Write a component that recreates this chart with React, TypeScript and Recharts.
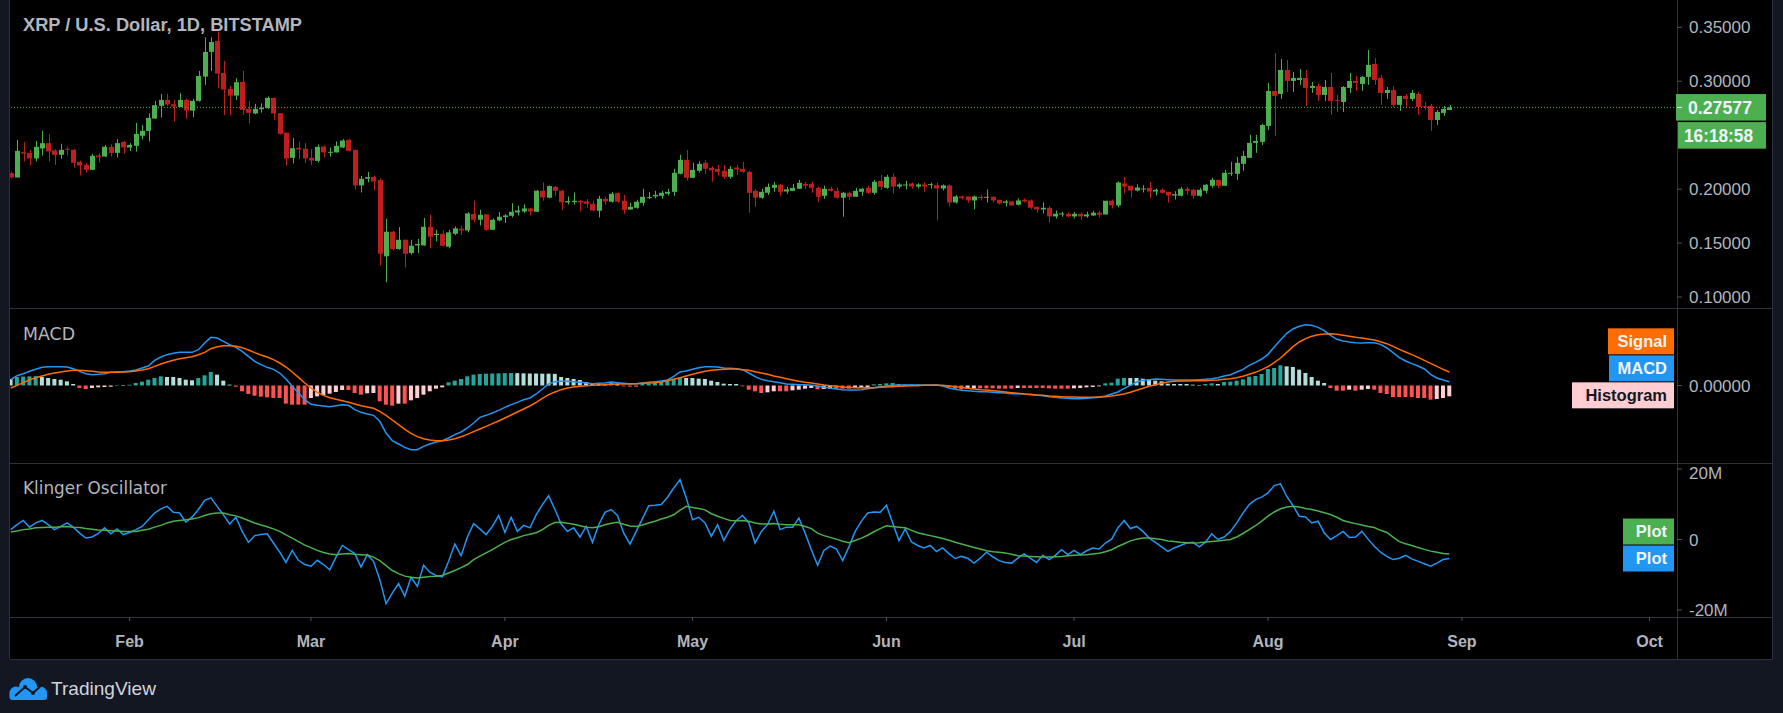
import React from 'react';
import { ComposedChart, Bar, Line, XAxis, YAxis, ReferenceLine, Cell } from 'recharts';

// ---------------- DATA (daily, 2020-01-13 .. 2020-08-30; index = day offset) ----------------
const startDate = '2020-01-13';

const open = [
0.2148,0.2108,0.2343,0.2336,0.2284,0.2377,0.2426,0.2358,0.2318,0.2374,
0.2364,0.2253,0.2225,0.2179,0.2312,0.2302,0.2392,0.2336,0.2438,0.2386,
0.2401,0.2494,0.2540,0.2654,0.2772,0.2827,0.2787,0.2762,0.2827,0.2728,
0.2818,0.3043,0.3272,0.3374,0.3077,0.2929,0.2867,0.2994,0.2744,0.2701,
0.2741,0.2750,0.2846,0.2704,0.2522,0.2290,0.2383,0.2374,0.2290,0.2262,
0.2395,0.2340,0.2340,0.2386,0.2457,0.2364,0.2034,0.2096,0.2114,0.2083,
0.1377,0.1605,0.1444,0.1531,0.1407,0.1478,0.1478,0.1651,0.1574,0.1586,
0.1466,0.1586,0.1633,0.1617,0.1769,0.1716,0.1766,0.1623,0.1710,0.1741,
0.1753,0.1784,0.1793,0.1821,0.1790,0.1985,0.1920,0.2021,0.1985,0.1877,
0.1880,0.1892,0.1886,0.1864,0.1799,0.1910,0.1883,0.1963,0.1892,0.1811,
0.1827,0.1873,0.1920,0.1932,0.1938,0.1957,0.1975,0.2142,0.2271,0.2105,
0.2170,0.2244,0.2197,0.2188,0.2170,0.2114,0.2200,0.2188,0.2160,0.1984,
0.1920,0.1966,0.2012,0.2040,0.1978,0.1984,0.2003,0.2049,0.2049,0.2012,
0.1938,0.2003,0.1984,0.1920,0.1966,0.1929,0.1975,0.2012,0.1966,0.2077,
0.2012,0.2114,0.2024,0.2034,0.2052,0.2024,0.2043,0.2040,0.2037,0.2006,
0.2034,0.1876,0.1932,0.1932,0.1895,0.1929,0.1920,0.1929,0.1901,0.1873,
0.1886,0.1855,0.1901,0.1895,0.1836,0.1812,0.1827,0.1747,0.1765,0.1771,
0.1747,0.1771,0.1747,0.1756,0.1781,0.1765,0.1892,0.1849,0.2052,0.2031,
0.1987,0.1997,0.2012,0.1978,0.1994,0.1975,0.1941,0.1938,0.2003,0.1994,
0.1938,0.1984,0.2031,0.2086,0.2031,0.2142,0.2142,0.2234,0.2290,0.2429,
0.2438,0.2586,0.2910,0.2882,0.3105,0.3003,0.3012,0.3031,0.2938,0.2956,
0.2873,0.2947,0.2827,0.2808,0.2938,0.3003,0.2975,0.3040,0.3160,0.3031,
0.2892,0.2919,0.2781,0.2864,0.2836,0.2882,0.2768,0.2771,0.2641,0.2706,
0.2734];

const high = [
0.2160,0.2457,0.2435,0.2364,0.2447,0.2540,0.2512,0.2371,0.2420,0.2395,
0.2371,0.2265,0.2241,0.2327,0.2333,0.2410,0.2420,0.2463,0.2444,0.2426,
0.2614,0.2593,0.2704,0.2818,0.2883,0.2883,0.2827,0.2889,0.2840,0.2837,
0.3096,0.3407,0.3407,0.3460,0.3188,0.2957,0.3028,0.3096,0.2818,0.2790,
0.2796,0.2858,0.2846,0.2704,0.2525,0.2475,0.2441,0.2426,0.2371,0.2413,
0.2404,0.2386,0.2441,0.2463,0.2466,0.2364,0.2123,0.2160,0.2126,0.2099,
0.1725,0.1611,0.1648,0.1531,0.1531,0.1537,0.1732,0.1762,0.1623,0.1617,
0.1623,0.1654,0.1660,0.1787,0.1892,0.1809,0.1766,0.1728,0.1787,0.1769,
0.1870,0.1846,0.1858,0.1827,0.1994,0.2062,0.2034,0.2028,0.1994,0.1932,
0.1969,0.1898,0.1907,0.1892,0.1938,0.1926,0.1972,0.1969,0.1947,0.1873,
0.1901,0.2003,0.1972,0.1984,0.1984,0.2003,0.2188,0.2318,0.2364,0.2244,
0.2259,0.2271,0.2213,0.2225,0.2225,0.2213,0.2225,0.2253,0.2170,0.2003,
0.2003,0.2052,0.2068,0.2049,0.2021,0.2049,0.2086,0.2068,0.2068,0.2024,
0.2031,0.2021,0.2012,0.1975,0.1975,0.2012,0.2012,0.2031,0.2086,0.2133,
0.2133,0.2145,0.2055,0.2077,0.2061,0.2055,0.2061,0.2061,0.2061,0.2043,
0.2043,0.1944,0.1941,0.1932,0.1941,0.1947,0.1997,0.1932,0.1901,0.1901,
0.1886,0.1914,0.1914,0.1904,0.1836,0.1876,0.1839,0.1802,0.1790,0.1784,
0.1790,0.1784,0.1790,0.1799,0.1799,0.1892,0.1904,0.2071,0.2114,0.2031,
0.2046,0.2037,0.2068,0.2006,0.2006,0.1975,0.1981,0.2021,0.2021,0.2003,
0.2012,0.2049,0.2105,0.2086,0.2179,0.2253,0.2299,0.2355,0.2503,0.2503,
0.2605,0.2984,0.3262,0.3207,0.3197,0.3086,0.3114,0.3105,0.2993,0.2984,
0.3012,0.3077,0.2873,0.2956,0.3077,0.3049,0.3049,0.3290,0.3216,0.3058,
0.2947,0.2956,0.2864,0.2882,0.2919,0.2901,0.2808,0.2790,0.2734,0.2771,
0.2780];

const low = [
0.2100,0.2108,0.2256,0.2219,0.2256,0.2312,0.2256,0.2225,0.2281,0.2312,
0.2201,0.2126,0.2154,0.2176,0.2247,0.2299,0.2302,0.2293,0.2330,0.2352,
0.2349,0.2460,0.2441,0.2651,0.2664,0.2772,0.2627,0.2759,0.2651,0.2667,
0.2812,0.2966,0.3096,0.2935,0.2685,0.2682,0.2827,0.2688,0.2608,0.2694,
0.2710,0.2744,0.2642,0.2506,0.2219,0.2238,0.2278,0.2241,0.2225,0.2247,
0.2296,0.2302,0.2340,0.2380,0.2349,0.1994,0.1969,0.2062,0.1988,0.1293,
0.1136,0.1432,0.1438,0.1275,0.1392,0.1407,0.1475,0.1451,0.1515,0.1469,
0.1451,0.1574,0.1574,0.1599,0.1691,0.1664,0.1614,0.1623,0.1701,0.1685,
0.1738,0.1756,0.1778,0.1756,0.1790,0.1892,0.1914,0.1938,0.1809,0.1858,
0.1858,0.1793,0.1827,0.1793,0.1738,0.1855,0.1876,0.1873,0.1771,0.1808,
0.1818,0.1845,0.1907,0.1913,0.1910,0.1941,0.1938,0.2136,0.2077,0.2105,
0.2154,0.2142,0.2068,0.2123,0.2096,0.2096,0.2133,0.2151,0.1781,0.1836,
0.1910,0.1947,0.1975,0.1938,0.1957,0.1984,0.2003,0.2003,0.1966,0.1883,
0.1910,0.1975,0.1910,0.1744,0.1901,0.1929,0.1938,0.1957,0.1947,0.1994,
0.2003,0.1960,0.2006,0.1997,0.2006,0.2006,0.1978,0.2006,0.1710,0.1987,
0.1839,0.1867,0.1904,0.1876,0.1812,0.1895,0.1876,0.1876,0.1858,0.1839,
0.1849,0.1849,0.1876,0.1812,0.1784,0.1774,0.1691,0.1728,0.1744,0.1740,
0.1728,0.1716,0.1734,0.1750,0.1737,0.1765,0.1821,0.1830,0.1960,0.1923,
0.1978,0.1969,0.1914,0.1941,0.1960,0.1876,0.1904,0.1932,0.1947,0.1910,
0.1929,0.1960,0.2012,0.2012,0.2031,0.2123,0.2086,0.2170,0.2290,0.2336,
0.2410,0.2549,0.2494,0.2836,0.2901,0.2901,0.2966,0.2771,0.2892,0.2818,
0.2818,0.2688,0.2716,0.2716,0.2892,0.2910,0.2910,0.2966,0.2966,0.2781,
0.2836,0.2762,0.2725,0.2762,0.2818,0.2688,0.2734,0.2540,0.2595,0.2679,
0.2734];

const close = [
0.2108,0.2355,0.2330,0.2284,0.2392,0.2426,0.2349,0.2318,0.2364,0.2364,
0.2244,0.2219,0.2179,0.2309,0.2296,0.2392,0.2336,0.2426,0.2386,0.2410,
0.2512,0.2540,0.2660,0.2778,0.2827,0.2784,0.2766,0.2827,0.2728,0.2818,
0.3049,0.3272,0.3364,0.3071,0.2923,0.2867,0.2991,0.2734,0.2707,0.2744,
0.2753,0.2846,0.2701,0.2512,0.2284,0.2380,0.2367,0.2284,0.2265,0.2392,
0.2340,0.2346,0.2401,0.2451,0.2355,0.2034,0.2096,0.2111,0.2071,0.1401,
0.1605,0.1444,0.1531,0.1401,0.1475,0.1491,0.1651,0.1559,0.1586,0.1475,
0.1599,0.1636,0.1617,0.1775,0.1716,0.1762,0.1623,0.1716,0.1744,0.1756,
0.1790,0.1802,0.1821,0.1793,0.1985,0.1923,0.2028,0.1985,0.1877,0.1889,
0.1892,0.1877,0.1864,0.1802,0.1911,0.1886,0.1957,0.1883,0.1808,0.1836,
0.1883,0.1929,0.1926,0.1947,0.1966,0.1975,0.2151,0.2271,0.2105,0.2179,
0.2234,0.2188,0.2173,0.2160,0.2114,0.2188,0.2182,0.2160,0.1966,0.1920,
0.1975,0.2021,0.2040,0.1975,0.1997,0.2012,0.2058,0.2031,0.2012,0.1929,
0.2003,0.1984,0.1920,0.1966,0.1929,0.1984,0.2003,0.1966,0.2068,0.2021,
0.2114,0.2024,0.2043,0.2043,0.2024,0.2043,0.2024,0.2046,0.2006,0.2034,
0.1876,0.1932,0.1917,0.1895,0.1932,0.1917,0.1929,0.1895,0.1867,0.1886,
0.1849,0.1895,0.1886,0.1827,0.1812,0.1827,0.1747,0.1771,0.1774,0.1747,
0.1771,0.1747,0.1765,0.1781,0.1762,0.1892,0.1849,0.2061,0.2024,0.1987,
0.2015,0.2006,0.1978,0.1994,0.1966,0.1941,0.1953,0.2003,0.1984,0.1938,
0.1994,0.2040,0.2086,0.2031,0.2151,0.2151,0.2244,0.2308,0.2429,0.2447,
0.2595,0.2910,0.2864,0.3105,0.3003,0.3031,0.3031,0.2938,0.2956,0.2873,
0.2947,0.2818,0.2818,0.2947,0.3003,0.2984,0.3040,0.3151,0.3012,0.2892,
0.2919,0.2781,0.2864,0.2836,0.2892,0.2762,0.2759,0.2641,0.2716,0.2744,
0.27577];

// MACD (12,26,9)
const macdLine = [
17.5e-4,29.5e-4,35.5e-4,42.5e-4,48.5e-4,54.5e-4,56.5e-4,56.5e-4,56.5e-4,55.5e-4,
50.5e-4,42.5e-4,35.5e-4,32.5e-4,33.5e-4,35.5e-4,39.5e-4,41.5e-4,41.5e-4,43.5e-4,
46.5e-4,52.5e-4,58.5e-4,75.5e-4,85.5e-4,92.5e-4,96.5e-4,99.5e-4,99.5e-4,99.5e-4,
107.5e-4,127.5e-4,144.5e-4,142.5e-4,132.5e-4,122.5e-4,114.5e-4,102.5e-4,87.5e-4,72.5e-4,
62.5e-4,54.5e-4,48.5e-4,37.5e-4,19.5e-4,-2.5e-4,-22.5e-4,-42.5e-4,-56.5e-4,-59.5e-4,
-61.5e-4,-63.5e-4,-60.5e-4,-57.5e-4,-59.5e-4,-72.5e-4,-80.5e-4,-85.5e-4,-89.5e-4,-107.5e-4,
-142.5e-4,-165.5e-4,-175.5e-4,-185.5e-4,-192.5e-4,-192.5e-4,-182.5e-4,-175.5e-4,-169.5e-4,-165.5e-4,
-157.5e-4,-147.5e-4,-139.5e-4,-127.5e-4,-112.5e-4,-95.5e-4,-89.5e-4,-82.5e-4,-74.5e-4,-65.5e-4,
-57.5e-4,-50.5e-4,-42.5e-4,-37.5e-4,-25.5e-4,-10.5e-4,4.5e-4,11.5e-4,12.5e-4,12.5e-4,
11.5e-4,9.5e-4,7.5e-4,5.5e-4,6.5e-4,7.5e-4,10.5e-4,8.5e-4,6.5e-4,4.5e-4,
5.5e-4,7.5e-4,9.5e-4,11.5e-4,13.5e-4,16.5e-4,27.5e-4,40.5e-4,43.5e-4,48.5e-4,
53.5e-4,56.5e-4,56.5e-4,55.5e-4,52.5e-4,51.5e-4,50.5e-4,47.5e-4,37.5e-4,26.5e-4,
18.5e-4,14.5e-4,11.5e-4,8.5e-4,4.5e-4,3.5e-4,2.5e-4,2.5e-4,0.5e-4,-1.5e-4,
-5.5e-4,-7.5e-4,-10.5e-4,-12.5e-4,-13.5e-4,-13.5e-4,-12.5e-4,-9.5e-4,-6.5e-4,-3.5e-4,
-1.5e-4,0.5e-4,1.5e-4,1.5e-4,1.5e-4,1.5e-4,1.5e-4,1.5e-4,2.5e-4,-1.5e-4,
-7.5e-4,-11.5e-4,-14.5e-4,-15.5e-4,-17.5e-4,-18.5e-4,-18.5e-4,-20.5e-4,-21.5e-4,-22.5e-4,
-24.5e-4,-24.5e-4,-25.5e-4,-27.5e-4,-28.5e-4,-30.5e-4,-33.5e-4,-35.5e-4,-37.5e-4,-38.5e-4,
-39.5e-4,-39.5e-4,-38.5e-4,-36.5e-4,-35.5e-4,-31.5e-4,-25.5e-4,-19.5e-4,-8.5e-4,0.5e-4,
10.5e-4,15.5e-4,17.5e-4,19.5e-4,18.5e-4,17.5e-4,16.5e-4,16.5e-4,16.5e-4,16.5e-4,
17.5e-4,18.5e-4,20.5e-4,23.5e-4,28.5e-4,32.5e-4,40.5e-4,48.5e-4,60.5e-4,69.5e-4,
79.5e-4,93.5e-4,115.5e-4,136.5e-4,156.5e-4,169.5e-4,177.5e-4,182.5e-4,180.5e-4,174.5e-4,
164.5e-4,150.5e-4,138.5e-4,133.5e-4,130.5e-4,128.5e-4,127.5e-4,128.5e-4,128.5e-4,123.5e-4,
112.5e-4,98.5e-4,83.5e-4,73.5e-4,65.5e-4,58.5e-4,49.5e-4,33.5e-4,22.5e-4,16.5e-4,
11.5e-4];

const signalLine = [
-7.5e-4,0.5e-4,8.5e-4,16.5e-4,23.5e-4,28.5e-4,33.5e-4,37.5e-4,40.5e-4,43.5e-4,
45.5e-4,45.5e-4,44.5e-4,42.5e-4,40.5e-4,39.5e-4,39.5e-4,39.5e-4,40.5e-4,41.5e-4,
43.5e-4,46.5e-4,50.5e-4,57.5e-4,64.5e-4,70.5e-4,75.5e-4,80.5e-4,83.5e-4,86.5e-4,
92.5e-4,99.5e-4,110.5e-4,116.5e-4,119.5e-4,119.5e-4,117.5e-4,113.5e-4,106.5e-4,98.5e-4,
91.5e-4,85.5e-4,77.5e-4,67.5e-4,55.5e-4,40.5e-4,24.5e-4,7.5e-4,-7.5e-4,-20.5e-4,
-29.5e-4,-36.5e-4,-41.5e-4,-45.5e-4,-50.5e-4,-55.5e-4,-60.5e-4,-64.5e-4,-68.5e-4,-77.5e-4,
-89.5e-4,-103.5e-4,-117.5e-4,-131.5e-4,-143.5e-4,-153.5e-4,-159.5e-4,-163.5e-4,-165.5e-4,-165.5e-4,
-163.5e-4,-159.5e-4,-153.5e-4,-146.5e-4,-138.5e-4,-130.5e-4,-122.5e-4,-114.5e-4,-106.5e-4,-97.5e-4,
-88.5e-4,-79.5e-4,-70.5e-4,-61.5e-4,-50.5e-4,-38.5e-4,-27.5e-4,-19.5e-4,-12.5e-4,-7.5e-4,
-4.5e-4,-2.5e-4,-0.5e-4,0.5e-4,1.5e-4,2.5e-4,3.5e-4,4.5e-4,4.5e-4,5.5e-4,
5.5e-4,6.5e-4,7.5e-4,8.5e-4,10.5e-4,14.5e-4,18.5e-4,23.5e-4,28.5e-4,33.5e-4,
38.5e-4,42.5e-4,45.5e-4,47.5e-4,48.5e-4,49.5e-4,49.5e-4,47.5e-4,45.5e-4,41.5e-4,
37.5e-4,33.5e-4,28.5e-4,24.5e-4,20.5e-4,16.5e-4,12.5e-4,9.5e-4,7.5e-4,4.5e-4,
1.5e-4,-0.5e-4,-2.5e-4,-4.5e-4,-5.5e-4,-6.5e-4,-6.5e-4,-6.5e-4,-6.5e-4,-5.5e-4,
-4.5e-4,-3.5e-4,-2.5e-4,-1.5e-4,-0.5e-4,-0.5e-4,0.5e-4,0.5e-4,0.5e-4,0.5e-4,
-1.5e-4,-3.5e-4,-5.5e-4,-8.5e-4,-10.5e-4,-12.5e-4,-13.5e-4,-15.5e-4,-17.5e-4,-19.5e-4,
-21.5e-4,-23.5e-4,-25.5e-4,-26.5e-4,-28.5e-4,-29.5e-4,-31.5e-4,-32.5e-4,-33.5e-4,-34.5e-4,
-34.5e-4,-35.5e-4,-35.5e-4,-35.5e-4,-34.5e-4,-33.5e-4,-31.5e-4,-28.5e-4,-25.5e-4,-20.5e-4,
-14.5e-4,-8.5e-4,-2.5e-4,2.5e-4,6.5e-4,10.5e-4,12.5e-4,13.5e-4,13.5e-4,14.5e-4,
14.5e-4,14.5e-4,15.5e-4,16.5e-4,18.5e-4,20.5e-4,23.5e-4,27.5e-4,33.5e-4,39.5e-4,
47.5e-4,56.5e-4,68.5e-4,82.5e-4,99.5e-4,116.5e-4,130.5e-4,140.5e-4,147.5e-4,152.5e-4,
154.5e-4,155.5e-4,153.5e-4,150.5e-4,147.5e-4,144.5e-4,142.5e-4,139.5e-4,136.5e-4,131.5e-4,
125.5e-4,117.5e-4,108.5e-4,100.5e-4,92.5e-4,84.5e-4,75.5e-4,66.5e-4,57.5e-4,48.5e-4,
40.5e-4];

const histogram = [
19.5e-4,25.5e-4,27e-4,27.5e-4,28e-4,25.5e-4,22.5e-4,19.5e-4,17.5e-4,12.5e-4,
4.5e-4,-7.5e-4,-10.5e-4,-7.5e-4,-5.5e-4,-4.5e-4,-3.5e-4,1.5e-4,1.5e-4,2.5e-4,
7.5e-4,11.5e-4,17.5e-4,22.5e-4,27.5e-4,25.5e-4,25.5e-4,22.5e-4,17.5e-4,15.5e-4,
22.5e-4,30.5e-4,40.5e-4,32.5e-4,14.5e-4,2.5e-4,-3.5e-4,-17.5e-4,-25.5e-4,-30.5e-4,
-33.5e-4,-35.5e-4,-37.5e-4,-37.5e-4,-54.5e-4,-57.5e-4,-57.5e-4,-57.5e-4,-37.5e-4,-32.5e-4,
-29.5e-4,-24.5e-4,-19.5e-4,-13.5e-4,-13.5e-4,-22.5e-4,-27.5e-4,-23.5e-4,-22.5e-4,-47.5e-4,
-57.5e-4,-60.5e-4,-54.5e-4,-54.5e-4,-44.5e-4,-37.5e-4,-27.5e-4,-17.5e-4,-9.5e-4,-5.5e-4,
9.5e-4,14.5e-4,19.5e-4,27.5e-4,32.5e-4,34.5e-4,35.5e-4,36e-4,36.5e-4,37e-4,
37.5e-4,37e-4,36.5e-4,36e-4,36e-4,35.5e-4,35.5e-4,35e-4,25.5e-4,22.5e-4,
19.5e-4,16.5e-4,10.5e-4,6.5e-4,4.5e-4,3.5e-4,7.5e-4,4.5e-4,-2.5e-4,-3.5e-4,
-3.5e-4,4.5e-4,6.5e-4,7.5e-4,10.5e-4,14.5e-4,20.5e-4,22.5e-4,22.5e-4,22.5e-4,
20.5e-4,19.5e-4,14.5e-4,10.5e-4,5.5e-4,4.5e-4,4.5e-4,-2.5e-4,-12.5e-4,-17.5e-4,
-22.5e-4,-20.5e-4,-17.5e-4,-17.5e-4,-17.5e-4,-14.5e-4,-12.5e-4,-9.5e-4,-7.5e-4,-11.5e-4,
-10.5e-4,-9.5e-4,-9.5e-4,-9.5e-4,-9.5e-4,-7.5e-4,-6.5e-4,-4.5e-4,3.5e-4,4.5e-4,
6.5e-4,7.5e-4,3.5e-4,2.5e-4,2.5e-4,2.5e-4,1.5e-4,1.5e-4,1.5e-4,-2.5e-4,
-5.5e-4,-9.5e-4,-11.5e-4,-9.5e-4,-8.5e-4,-8.5e-4,-8.5e-4,-8.5e-4,-9.5e-4,-9.5e-4,
-9.5e-4,-7.5e-4,-7.5e-4,-7.5e-4,-7.5e-4,-7.5e-4,-8.5e-4,-9.5e-4,-9.5e-4,-9.5e-4,
-8.5e-4,-7.5e-4,-5.5e-4,-4.5e-4,-2.5e-4,6.5e-4,8.5e-4,20.5e-4,22.5e-4,22.5e-4,
22.5e-4,20.5e-4,18.5e-4,14.5e-4,12.5e-4,5.5e-4,4.5e-4,4.5e-4,4.5e-4,2.5e-4,
1.5e-4,4.5e-4,6.5e-4,4.5e-4,10.5e-4,11.5e-4,14.5e-4,18.5e-4,26.5e-4,28.5e-4,
34.5e-4,49.5e-4,52.5e-4,60.5e-4,57.5e-4,55.5e-4,47.5e-4,37.5e-4,25.5e-4,14.5e-4,
7.5e-4,-7.5e-4,-15.5e-4,-15.5e-4,-12.5e-4,-15.5e-4,-12.5e-4,-10.5e-4,-12.5e-4,-22.5e-4,
-25.5e-4,-34.5e-4,-34.5e-4,-34.5e-4,-34.5e-4,-37.5e-4,-37.5e-4,-42.5e-4,-40.5e-4,-37.5e-4,
-32.5e-4];

// Klinger Oscillator, in millions
const kvoM = [
2.8,4.2,5.4,3.5,4.7,5.4,4.2,2.8,3.7,4.7,
3.5,1.8,0.4,0.7,1.7,3.3,1.6,3.0,1.4,2.0,
2.8,3.7,5.6,7.5,8.7,9.4,7.7,7.5,4.9,6.4,
8.5,11.1,11.8,9.4,7.0,4.4,6.3,2.3,-0.8,1.1,
1.4,1.6,-1.0,-3.6,-6.5,-3.1,-5.9,-7.1,-7.6,-5.9,
-7.1,-8.6,-5.0,-1.7,-2.9,-4.0,-7.8,-4.3,-6.2,-11.4,
-18.2,-15.2,-12.5,-16.1,-10.7,-13.3,-7.3,-9.3,-10.2,-10.6,
-6.2,-1.3,-4.6,0.7,4.5,3.0,1.4,3.7,6.8,2.0,
6.3,2.3,4.0,3.3,7.0,9.9,12.4,8.5,4.4,2.3,
3.3,0.7,3.7,-0.8,4.2,7.7,8.5,6.8,1.8,-1.3,
2.3,5.9,9.6,9.7,9.9,12.0,14.6,17.0,11.8,5.6,
6.3,4.7,0.9,4.2,-0.3,3.0,5.4,6.8,4.7,-1.0,
2.3,4.2,8.0,2.8,3.5,3.5,6.1,1.8,-2.9,-7.3,
-3.1,-1.9,-2.7,-6.0,-2.1,2.3,5.2,7.5,7.8,7.7,
9.7,4.7,-0.3,3.0,-0.7,-1.7,-2.4,-1.7,-3.4,-2.4,
-4.0,-5.4,-4.8,-5.3,-6.7,-5.3,-3.6,-4.9,-6.0,-6.5,
-6.7,-5.3,-4.1,-5.3,-6.5,-4.5,-5.7,-4.5,-2.9,-4.3,
-3.1,-4.3,-3.2,-2.4,-2.7,-1.0,0.1,3.3,5.4,3.1,
3.7,2.3,0.4,-0.8,-2.1,-3.4,-2.4,-1.7,-1.0,-0.8,
-2.1,-0.8,1.6,0.0,0.7,2.3,4.7,7.5,9.9,11.3,
12.0,13.2,15.3,15.8,12.2,9.6,6.6,6.4,4.7,5.2,
1.8,0.0,1.1,2.3,0.6,0.7,2.3,0.1,-1.9,-3.6,
-4.8,-5.7,-5.3,-4.5,-5.5,-6.2,-6.9,-7.6,-6.7,-5.7,
-5.4];

const kvoSignalM = [
2.1,2.4,2.8,3.0,3.3,3.4,3.5,3.5,3.6,3.7,
3.5,3.4,3.1,2.9,2.7,2.6,2.5,2.4,2.3,2.3,
2.3,2.6,2.9,3.5,4.0,4.7,5.2,5.4,5.6,5.8,
6.2,6.8,7.3,7.5,7.5,7.0,6.7,6.1,5.4,4.7,
4.1,3.6,3.0,2.3,1.3,0.4,-0.6,-1.6,-2.3,-3.1,
-3.7,-4.1,-4.3,-4.1,-4.0,-4.2,-4.3,-4.4,-5.0,-6.0,
-7.4,-8.8,-9.7,-10.4,-10.7,-10.9,-10.7,-10.5,-10.4,-10.2,
-9.5,-8.8,-8.0,-7.1,-5.7,-4.7,-3.8,-2.9,-1.8,-0.8,
0.0,0.5,1.1,1.5,1.9,2.8,4.0,4.8,4.9,4.6,
4.3,3.9,3.5,3.3,3.6,4.2,4.6,4.9,4.3,3.8,
3.7,4.1,4.7,5.2,5.8,6.3,7.0,8.3,9.4,9.1,
8.8,8.4,7.3,6.6,6.0,5.4,5.3,5.4,5.2,4.7,
4.4,4.4,4.5,4.3,4.2,4.2,4.2,3.7,3.1,1.8,
1.1,0.6,0.1,-0.5,-0.9,-0.3,0.4,1.2,2.2,3.1,
3.9,3.7,3.5,3.3,2.6,1.9,1.5,1.1,0.7,0.3,
-0.2,-0.8,-1.3,-1.8,-2.3,-2.7,-3.2,-3.5,-3.6,-3.8,
-4.2,-4.6,-4.7,-4.8,-4.9,-5.0,-5.0,-4.9,-4.8,-4.6,
-4.5,-4.4,-4.3,-4.1,-3.9,-3.5,-2.9,-2.0,-1.2,-0.4,
0.1,0.4,0.4,0.2,0.0,-0.4,-0.6,-0.8,-0.9,-1.0,
-0.9,-0.7,-0.6,-0.4,-0.2,0.0,0.7,1.7,2.8,3.9,
5.2,6.6,7.8,8.7,9.2,9.4,9.2,8.8,8.5,8.1,
7.6,7.1,6.3,5.4,4.9,4.5,4.1,3.7,3.4,2.6,
2.0,0.7,-0.6,-1.2,-1.7,-2.3,-2.8,-3.3,-3.6,-4.0,
-4.1];

// Axis ticks (0.25000 is hidden behind the countdown tag in the reference)
const priceTicks = [0.10, 0.15, 0.20, 0.30, 0.35];
const macdTicks = [0];
const klingerTicks = [-20, 0, 20];
const monthTicks = [19, 48, 79, 109, 140, 170, 201, 232, 262]; // day offsets of 1st of month
const monthNames = ['Feb', 'Mar', 'Apr', 'May', 'Jun', 'Jul', 'Aug', 'Sep', 'Oct'];
const countdown = '16:18:58';
const title = 'XRP / U.S. Dollar, 1D, BITSTAMP';

// ---------------- LAYOUT / STYLE ----------------
const W = 1783, H = 713;
const PLOT_L = 10, PLOT_R = 1677, FRAME_R = 1772, CHART_B = 659;
const MARGIN = { top: 0, right: W - FRAME_R, bottom: 0, left: PLOT_L };
const AXIS_W = FRAME_R - PLOT_R;
const X_DOMAIN: [number, number] = [-0.12, 266.39];
const AXIS_FONT = '"Liberation Sans", Arial, sans-serif';
const LABEL_FONT = '"DejaVu Sans", sans-serif';
const TEXT = '#B2B5BE';
const TAG_TEXT = '#F0F3FA';
const BORDER = '#2E3240';
const GREEN = '#4CAF50';
const RED = '#BE1E1E';
const BLUE = '#2196F3';
const ORANGE = '#FF6D00';

const rows = close.map((c, i) => ({
  i,
  o: open[i], h: high[i], l: low[i], c,
  range: [low[i], high[i]],
  macd: macdLine[i], signal: signalLine[i], hist: histogram[i],
  kvo: kvoM[i], ksig: kvoSignalM[i],
}));

const histColor = (i: number) => {
  const v = histogram[i];
  const p = i > 0 ? histogram[i - 1] : v;
  if (v >= 0) return p < v ? '#26A69A' : '#B2DFDB';
  return p < v ? '#FFCDD2' : '#FF5252';
};

const Candle = (props: any) => {
  const { x, y, width, height, payload } = props;
  if (x == null || y == null || !payload) return null;
  const { o, h, l, c } = payload;
  const top = Math.min(y, y + height);
  const bot = Math.max(y, y + height);
  const k = h > l ? (bot - top) / (h - l) : 0;
  const py = (v: number) => top + (h - v) * k;
  const col = c >= o ? GREEN : RED;
  const cx = Math.round(x + width / 2) + 0.5;
  const b1 = py(Math.max(o, c));
  const b2 = py(Math.min(o, c));
  return (
    <g>
      <line x1={cx} x2={cx} y1={top} y2={bot} stroke={col} strokeWidth={1} />
      <rect x={Math.round(x)} y={b1} width={width} height={Math.max(1, b2 - b1)} fill={col} />
    </g>
  );
};

const YTick = (props: any) => {
  const { x, y, payload, fmt } = props;
  const yy = Math.max(y, 10); // keep the top label inside its pane
  return (
    <text x={x} y={yy} dy="0.36em" fill={TEXT} fontSize={17} fontFamily={AXIS_FONT} textAnchor="start">
      {fmt(payload.value)}
    </text>
  );
};

const MonthTick = (props: any) => {
  const { x, y, payload } = props;
  const idx = monthTicks.indexOf(payload.value);
  return (
    <text x={x} y={y + 18} dy="0.36em" fill={TEXT} fontSize={16} fontWeight="bold" fontFamily={AXIS_FONT} textAnchor="middle">
      {monthNames[idx]}
    </text>
  );
};

const Tag = ({ right, cy, w, bg, fg, label }: any) => (
  <g>
    <rect x={right - w} y={cy - 13} width={w} height={26} fill={bg} />
    <text x={right - 7} y={cy} dy="0.36em" textAnchor="end" fill={fg} fontSize={16.5} fontWeight="bold" fontFamily={AXIS_FONT}>{label}</text>
  </g>
);

const PriceTag = (props: any) => {
  const vb = props.viewBox || {};
  const ax = vb.x + vb.width;
  const y = vb.y;
  return (
    <g>
      <rect x={ax - 1} y={y - 13.3} width={90} height={26.5} fill={GREEN} />
      <line x1={ax} x2={ax + 5} y1={y} y2={y} stroke={TAG_TEXT} strokeWidth={1} />
      <text x={ax + 11} y={y} dy="0.36em" fill={TAG_TEXT} fontSize={18} fontWeight="bold" fontFamily={AXIS_FONT} textLength={64} lengthAdjust="spacingAndGlyphs">{close[close.length - 1].toFixed(5)}</text>
      <rect x={ax + 1} y={y + 14.7} width={88} height={26.6} fill={GREEN} />
      <text x={ax + 7} y={y + 28} dy="0.36em" fill={TAG_TEXT} fontSize={18} fontWeight="bold" fontFamily={AXIS_FONT} textLength={69} lengthAdjust="spacingAndGlyphs">{countdown}</text>
    </g>
  );
};

const MacdTags = (props: any) => {
  const vb = props.viewBox || {};
  const r = vb.x + vb.width - 3;
  const y = vb.y - 1;
  return (
    <g>
      <Tag right={r} cy={y - 54} w={66} bg={ORANGE} fg={TAG_TEXT} label="Signal" />
      <Tag right={r} cy={y - 27} w={65} bg={BLUE} fg={TAG_TEXT} label="MACD" />
      <Tag right={r} cy={y} w={102} bg="#FFCDD2" fg="#131722" label="Histogram" />
    </g>
  );
};

const KlingerTags = (props: any) => {
  const vb = props.viewBox || {};
  const r = vb.x + vb.width - 3;
  const y = vb.y;
  return (
    <g>
      <Tag right={r} cy={y - 27} w={51} bg={GREEN} fg={TAG_TEXT} label="Plot" />
      <Tag right={r} cy={y} w={51} bg={BLUE} fg={TAG_TEXT} label="Plot" />
    </g>
  );
};

const xAxisHidden = <XAxis dataKey="i" type="number" domain={X_DOMAIN} allowDataOverflow hide />;

export default function App() {
  const last = rows[rows.length - 1];
  return (
    <div style={{ position: 'absolute', left: 0, top: 0, width: W, height: H, background: '#131722', overflow: 'hidden' }}>
      <div style={{ position: 'absolute', left: PLOT_L, top: 0, width: FRAME_R - PLOT_L, height: CHART_B, background: '#000000' }} />
      <svg width={W} height={H} style={{ position: 'absolute', left: 0, top: 0 }}>
        <line x1={PLOT_L} x2={FRAME_R} y1={308.5} y2={308.5} stroke={BORDER} />
        <line x1={PLOT_L} x2={FRAME_R} y1={463.5} y2={463.5} stroke={BORDER} />
        <line x1={PLOT_L} x2={FRAME_R} y1={617.5} y2={617.5} stroke={BORDER} />
        <line x1={PLOT_L} x2={FRAME_R} y1={CHART_B + 0.5} y2={CHART_B + 0.5} stroke={BORDER} />
        <line x1={PLOT_R + 0.5} x2={PLOT_R + 0.5} y1={0} y2={CHART_B} stroke={BORDER} />
        <line x1={PLOT_L - 0.5} x2={PLOT_L - 0.5} y1={0} y2={CHART_B} stroke={BORDER} />
        <line x1={FRAME_R + 0.5} x2={FRAME_R + 0.5} y1={0} y2={CHART_B} stroke={BORDER} />
      </svg>

      <div style={{ position: 'absolute', left: 0, top: 0 }}>
        <ComposedChart width={W} height={308} data={rows} margin={MARGIN}>
          {xAxisHidden}
          <YAxis orientation="right" width={AXIS_W} domain={[0.0898, 0.37531]} allowDataOverflow ticks={priceTicks} interval={0}
            tick={(p: any) => <YTick {...p} fmt={(v: number) => v.toFixed(5)} />} tickSize={5} tickMargin={7}
            tickLine={{ stroke: '#50535E' }} axisLine={false} />
          <ReferenceLine y={last.c} stroke={GREEN} strokeDasharray="1 2" label={(p: any) => <PriceTag {...p} />} />
          <Bar dataKey="range" barSize={5} shape={(p: any) => <Candle {...p} />} isAnimationActive={false} />
        </ComposedChart>
      </div>

      <div style={{ position: 'absolute', left: 0, top: 308 }}>
        <ComposedChart width={W} height={155} data={rows} margin={MARGIN}>
          {xAxisHidden}
          <YAxis orientation="right" width={AXIS_W} domain={[-0.02325, 0.02325]} allowDataOverflow ticks={macdTicks} interval={0}
            tick={(p: any) => <YTick {...p} fmt={(v: number) => v.toFixed(5)} />} tickSize={5} tickMargin={7}
            tickLine={{ stroke: '#50535E' }} axisLine={false} />
          <Bar dataKey="hist" barSize={4} isAnimationActive={false}>
            {rows.map((r) => <Cell key={r.i} fill={histColor(r.i)} />)}
          </Bar>
          <Line dataKey="macd" stroke={BLUE} strokeWidth={1.5} dot={false} isAnimationActive={false} />
          <Line dataKey="signal" stroke={ORANGE} strokeWidth={1.5} dot={false} isAnimationActive={false} />
          <ReferenceLine y={last.hist} stroke="none" label={(p: any) => <MacdTags {...p} />} />
        </ComposedChart>
      </div>

      <div style={{ position: 'absolute', left: 0, top: 463 }}>
        <ComposedChart width={W} height={196} data={rows} margin={MARGIN}>
          <XAxis dataKey="i" type="number" domain={X_DOMAIN} allowDataOverflow ticks={monthTicks} interval={0} height={42}
            tick={(p: any) => <MonthTick {...p} />} tickSize={4} tickLine={{ stroke: '#50535E' }} axisLine={false} />
          <YAxis orientation="right" width={AXIS_W} domain={[-21.99, 21.7]} allowDataOverflow ticks={klingerTicks} interval={0}
            tick={(p: any) => <YTick {...p} fmt={(v: number) => (v === 0 ? '0' : `${v}M`)} />} tickSize={5} tickMargin={7}
            tickLine={{ stroke: '#50535E' }} axisLine={false} />
          <Line dataKey="kvo" stroke={BLUE} strokeWidth={1.5} dot={false} isAnimationActive={false} />
          <Line dataKey="ksig" stroke={GREEN} strokeWidth={1.5} dot={false} isAnimationActive={false} />
          <ReferenceLine y={last.kvo} stroke="none" label={(p: any) => <KlingerTags {...p} />} />
        </ComposedChart>
      </div>

      <svg width={W} height={H} style={{ position: 'absolute', left: 0, top: 0, pointerEvents: 'none' }}>
        <text x={23} y={31} fill={TEXT} fontSize={18} fontWeight="bold" fontFamily={AXIS_FONT} textLength={279} lengthAdjust="spacingAndGlyphs">{title}</text>
        <text x={23} y={340} fill={TEXT} fontSize={17} fontFamily={LABEL_FONT} textLength={52} lengthAdjust="spacingAndGlyphs">MACD</text>
        <text x={23} y={494} fill={TEXT} fontSize={17} fontFamily={LABEL_FONT} textLength={144} lengthAdjust="spacingAndGlyphs">Klinger Oscillator</text>
        <g>
          <circle cx={16} cy={693} r={6.5} fill={BLUE} />
          <circle cx={28} cy={687} r={9} fill={BLUE} />
          <circle cx={40.5} cy={693} r={6.5} fill={BLUE} />
          <rect x={9.5} y={692} width={37.5} height={8} rx={3} fill={BLUE} />
          <polyline points="15,696 25,687 33,693 43,684" fill="none" stroke="#131722" strokeWidth={2} />
          <circle cx={25} cy={687} r={2} fill="#131722" />
          <circle cx={33} cy={693} r={2} fill="#131722" />
        </g>
        <text x={51} y={695} fill="#D1D4DC" fontSize={18.5} fontFamily={AXIS_FONT} textLength={105} lengthAdjust="spacingAndGlyphs">TradingView</text>
      </svg>
    </div>
  );
}
